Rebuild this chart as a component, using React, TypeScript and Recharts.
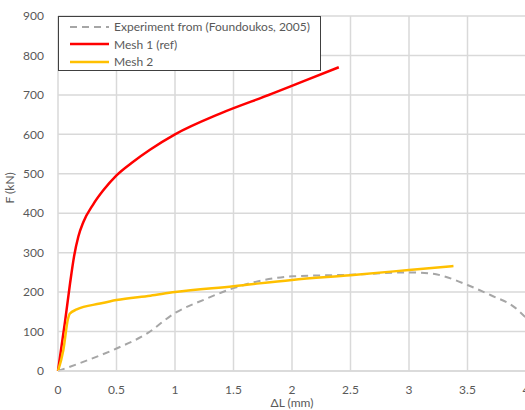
import { LineChart, Line, XAxis, YAxis, CartesianGrid, Legend } from 'recharts'

const xTicks = [0, 0.5, 1, 1.5, 2, 2.5, 3, 3.5, 4]
const yTicks = [0, 100, 200, 300, 400, 500, 600, 700, 800, 900]

const experiment = [
  { x: 0, y: 0 }, { x: 0.25, y: 27 }, { x: 0.5, y: 57 }, { x: 0.75, y: 93 },
  { x: 1.0, y: 147 }, { x: 1.25, y: 181 }, { x: 1.5, y: 210 }, { x: 1.75, y: 230 },
  { x: 2.0, y: 240 }, { x: 2.5, y: 244 }, { x: 3.0, y: 250 }, { x: 3.2, y: 247 },
  { x: 3.3, y: 240 }, { x: 3.5, y: 218 }, { x: 3.7, y: 192 }, { x: 3.9, y: 162 },
  { x: 4.0, y: 135 },
]

const mesh1 = [
  { x: 0, y: 0 }, { x: 0.06, y: 125 }, { x: 0.103, y: 222 }, { x: 0.137, y: 290 },
  { x: 0.174, y: 341 }, { x: 0.216, y: 377 }, { x: 0.3, y: 422 }, { x: 0.387, y: 458 },
  { x: 0.5, y: 496 }, { x: 0.64, y: 530 }, { x: 0.786, y: 561 }, { x: 1.0, y: 600 },
  { x: 1.38, y: 652 }, { x: 1.83, y: 703 }, { x: 2.1, y: 735 }, { x: 2.4, y: 770 },
]

const mesh2 = [
  { x: 0, y: 0 }, { x: 0.045, y: 52 }, { x: 0.085, y: 132 }, { x: 0.1, y: 145 },
  { x: 0.16, y: 156 }, { x: 0.36, y: 171 }, { x: 0.5, y: 180 }, { x: 0.79, y: 191 },
  { x: 1.0, y: 200 }, { x: 1.5, y: 215 }, { x: 2.0, y: 231 }, { x: 2.5, y: 243 },
  { x: 3.0, y: 256 }, { x: 3.38, y: 266 },
]

const series = [
  { name: 'Experiment from (Foundoukos, 2005)', data: experiment, color: '#a6a6a6', dash: '7 5', width: 2 },
  { name: 'Mesh 1 (ref)', data: mesh1, color: '#ff0000', dash: undefined, width: 2.5 },
  { name: 'Mesh 2', data: mesh2, color: '#ffc000', dash: undefined, width: 2.5 },
]

const FONT = 'Lato, sans-serif'
const TEXT = '#595959'

function LegendBox() {
  return (
    <div style={{ border: '1.5px solid #404040', background: '#fff', width: 263, height: 55, boxSizing: 'border-box', padding: '1px 0 0 11px', fontFamily: FONT, fontSize: 12, color: TEXT, textAlign: 'left' }}>
      {series.map(s => (
        <div key={s.name} style={{ display: 'flex', alignItems: 'center', height: 17.5, whiteSpace: 'nowrap' }}>
          <svg width={39} height={6} style={{ marginRight: 5 }}>
            <line x1={0} y1={3} x2={39} y2={3} stroke={s.color} strokeWidth={s.width} strokeDasharray={s.dash} />
          </svg>
          <span>{s.name}</span>
        </div>
      ))}
    </div>
  )
}

export default function App() {
  return (
    <div style={{ position: 'absolute', left: 0, top: 0, width: 525, height: 410, overflow: 'hidden', background: '#fff' }}>
      <LineChart width={530} height={410} margin={{ top: 16, right: 4, bottom: 0, left: 0 }}>
        <CartesianGrid stroke="#d9d9d9" strokeWidth={1.5} />
        <XAxis
          type="number" dataKey="x" domain={[0, 4]} ticks={xTicks}
          tickLine={false} axisLine={{ stroke: '#d9d9d9', strokeWidth: 1.5 }}
          tick={{ fill: TEXT, fontSize: 12, fontFamily: FONT }} tickMargin={8} height={39}
          label={{ value: 'ΔL (mm)', position: 'insideBottom', offset: 3, fill: TEXT, fontSize: 12, fontFamily: FONT }}
        />
        <YAxis
          type="number" domain={[0, 900]} ticks={yTicks} width={58}
          tickLine={false} axisLine={false}
          tick={{ fill: TEXT, fontSize: 12, fontFamily: FONT }} tickMargin={8}
          label={{ value: 'F (kN)', angle: -90, position: 'insideLeft', offset: 10, dy: 10, fill: TEXT, fontSize: 12, fontFamily: FONT }}
        />
        <Legend content={<LegendBox />} layout="vertical" verticalAlign="middle" align="center"
          wrapperStyle={{ left: 58, top: 16, width: 263 }} />
        {series.map(s => (
          <Line key={s.name} data={s.data} dataKey="y" name={s.name} type="monotone"
            stroke={s.color} strokeWidth={s.width} strokeDasharray={s.dash}
            dot={false} isAnimationActive={false} />
        ))}
      </LineChart>
    </div>
  )
}
